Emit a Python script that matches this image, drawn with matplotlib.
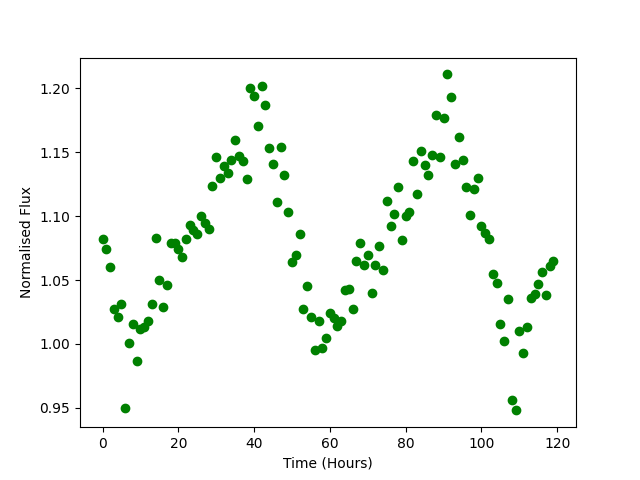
"""Light curve scatter: normalised flux against time
"""

import numpy as np
import matplotlib
matplotlib.use("Agg")
import matplotlib.pyplot as plt

# data
time = np.arange(120)
flux = [
    1.082, 1.074, 1.060, 1.027, 1.021, 1.031, 0.950, 1.001, 1.016, 0.987,
    1.012, 1.013, 1.018, 1.031, 1.083, 1.050, 1.029, 1.046, 1.079, 1.079,
    1.074, 1.068, 1.082, 1.093, 1.089, 1.086, 1.100, 1.095, 1.090, 1.124,
    1.146, 1.130, 1.139, 1.134, 1.144, 1.160, 1.147, 1.143, 1.129, 1.200,
    1.194, 1.171, 1.2016, 1.187, 1.153, 1.141, 1.111, 1.154, 1.132, 1.103,
    1.064, 1.070, 1.086, 1.027, 1.045, 1.021, 0.995, 1.018, 0.997, 1.005,
    1.024, 1.020, 1.014, 1.018, 1.042, 1.043, 1.027, 1.065, 1.079, 1.062,
    1.070, 1.040, 1.062, 1.077, 1.058, 1.112, 1.092, 1.102, 1.123, 1.081,
    1.100, 1.103, 1.143, 1.117, 1.151, 1.140, 1.132, 1.148, 1.179, 1.146,
    1.177, 1.211, 1.193, 1.141, 1.162, 1.144, 1.123, 1.101, 1.121, 1.130,
    1.092, 1.087, 1.082, 1.055, 1.048, 1.016, 1.002, 1.035, 0.956, 0.948,
    1.010, 0.993, 1.013, 1.036, 1.039, 1.047, 1.056, 1.038, 1.061, 1.065,
]

fig = plt.figure(figsize=(6.4, 4.8), dpi=100)
ax = plt.gca()

ax.plot(time, flux, 'o', color='g')
ax.set_xlabel('Time (Hours)')
ax.set_ylabel('Normalised Flux')

fig.savefig('out.png')
